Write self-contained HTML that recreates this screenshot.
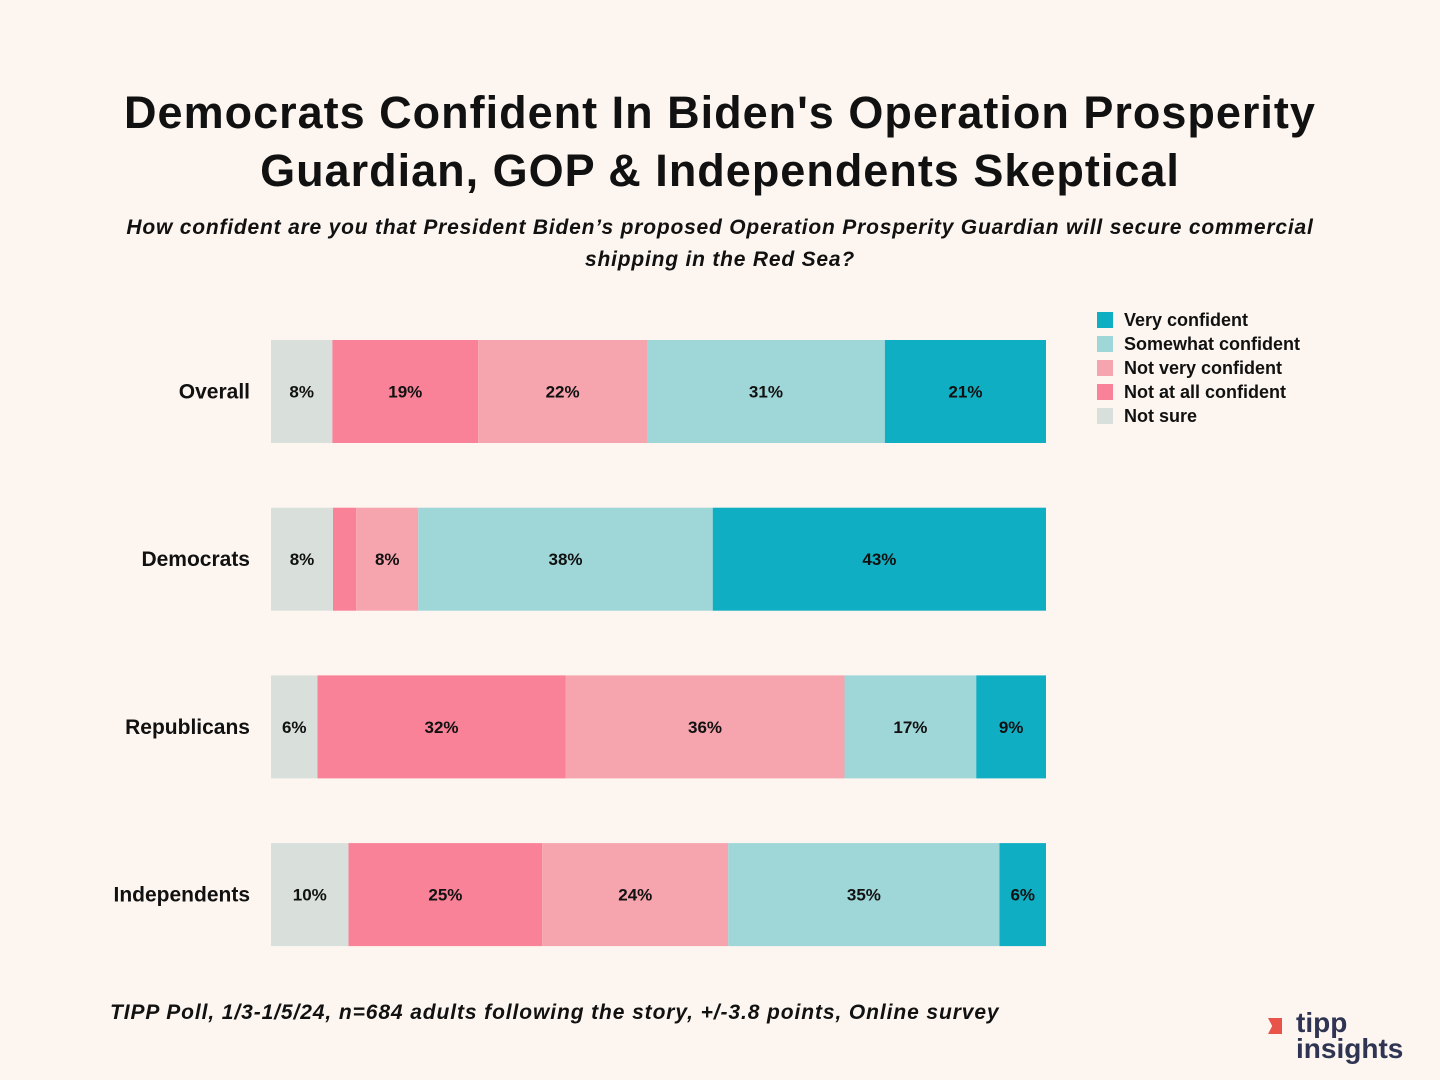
<!DOCTYPE html>
<html><head><meta charset="utf-8"><style>
body{margin:0;width:1440px;height:1080px;background:#fdf6f0;font-family:"Liberation Sans",sans-serif;overflow:hidden;position:relative}
.t{position:absolute;left:0;width:1440px;text-align:center;font-weight:bold;font-size:45px;color:#111;letter-spacing:1px}
.sub{position:absolute;left:0;width:1440px;text-align:center;font-style:italic;font-weight:bold;font-size:21px;color:#111;line-height:32px;letter-spacing:0.8px}
</style></head><body>
<div class="t" style="top:84px;line-height:58px">Democrats Confident In Biden's Operation Prosperity<br>Guardian, GOP &amp; Independents Skeptical</div>
<div class="sub" style="top:212px">How confident are you that President Biden’s proposed Operation Prosperity Guardian will secure commercial<br>shipping in the Red Sea?</div>
<svg id="chart" width="1440" height="1080" style="position:absolute;left:0;top:0"></svg>
<div style="position:absolute;left:110px;top:1001px;font-style:italic;font-weight:bold;font-size:21px;color:#111;letter-spacing:0.9px">TIPP Poll, 1/3-1/5/24, n=684 adults following the story, +/-3.8 points, Online survey</div>
<div style="position:absolute;left:1258px;top:1012px;width:150px;height:56px">
<div style="position:absolute;left:10px;top:6px;width:14px;height:16px;background:#e8534a;clip-path:polygon(0 0,100% 0,100% 100%,0 100%,30% 50%)"></div>
<div style="position:absolute;left:38px;top:-4px;font-weight:bold;font-size:28px;color:#2e3452;line-height:30px">tipp</div>
<div style="position:absolute;left:38px;top:22px;font-weight:bold;font-size:28px;color:#2e3452;line-height:30px">insights</div>
</div>
<script>
const groups=["Overall","Democrats","Republicans","Independents"];
const notSure=[8,8,6,10];
const notAtAll=[19,3,32,25];
const notVery=[22,8,36,24];
const somewhat=[31,38,17,35];
const very=[21,43,9,6];
const seriesNames=["Not sure","Not at all confident","Not very confident","Somewhat confident","Very confident"];
const series=[notSure,notAtAll,notVery,somewhat,very];
const colors=["#d9e0dc","#f98298","#f6a4ae","#9fd6d8","#10aec3"];
const svg=document.getElementById('chart');const NS="http://www.w3.org/2000/svg";
const x0=271,x1=1046,y0=340,rowStep=167.7,bh=103;
function mk(t,a){const e=document.createElementNS(NS,t);for(const k in a)e.setAttribute(k,a[k]);svg.appendChild(e);return e;}
groups.forEach((g,i)=>{
 const y=y0+i*rowStep;
 const tot=series.reduce((s,a)=>s+a[i],0);
 const xs=v=>v/tot*(x1-x0);
 const lab=mk('text',{x:250,y:y+bh/2+7,'text-anchor':'end','font-size':21,'font-weight':'bold',fill:'#111','font-family':'Liberation Sans'});
 lab.textContent=g;
 
 
 let cx=x0;
 series.forEach((s,j)=>{
  const w=xs(s[i]);
  const r=mk('rect',{x:cx,y:y,width:w,height:bh,fill:colors[j]});
  
  
  if(s[i]>=5){const t=mk('text',{x:cx+w/2,y:y+bh/2+6,'text-anchor':'middle','font-size':17,'font-weight':'bold',fill:'#111','font-family':'Liberation Sans'});t.textContent=s[i]+'%';
   
   }
  cx+=w;
 });
});
for(let k=0;k<5;k++){const j=4-k;const ly=312+k*24;
 const r=mk('rect',{x:1097,y:ly,width:16,height:16,fill:colors[j]});
 
 
 const t=mk('text',{x:1124,y:ly+14,'font-size':18,'font-weight':'bold',fill:'#111','font-family':'Liberation Sans'});t.textContent=seriesNames[j];
 
 }
</script>
</body></html>
